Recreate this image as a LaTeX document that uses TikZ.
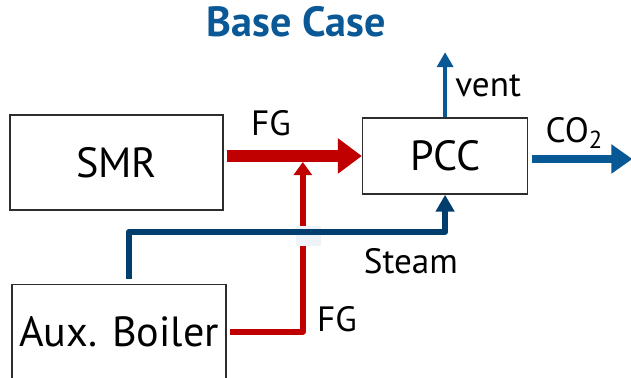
\documentclass[tikz,border=0pt]{standalone}
\usepackage{fontspec}
\setmainfont{PT Sans}
\usepackage{tikz}
\usetikzlibrary{arrows.meta, positioning}
\usepackage{xcolor}
\definecolor{boxLine}{RGB}{45,45,45}
\definecolor{fgRed}{RGB}{192,0,0}
\definecolor{steamBlue}{RGB}{0,62,110}
\definecolor{flowBlue}{RGB}{8,88,150}
\definecolor{titleBlue}{RGB}{10,88,150}
\definecolor{gapFill}{RGB}{238,243,247}

\begin{document}
\begin{tikzpicture}[
    box/.style={rectangle, draw=boxLine, line width=0.04cm, align=center, font=\fontsize{30}{36}\selectfont},
    lbl/.style={inner sep=0pt, font=\fontsize{25}{30}\selectfont},
    title/.style={inner sep=0pt, text=titleBlue, font=\bfseries\fontsize{30}{36}\selectfont},
    gap/.style={rectangle, fill=gapFill, inner sep=0pt},
    fgmain/.style={draw=fgRed, line width=0.3cm, -{Triangle[length=0.6cm, width=0.85cm]}},
    fgaux/.style={draw=fgRed, line width=0.15cm, line join=round, -{Triangle[length=0.33cm, width=0.45cm]}},
    steamline/.style={draw=steamBlue, line width=0.15cm, line join=round, -{Triangle[length=0.42cm, width=0.45cm]}},
    ventline/.style={draw=flowBlue, line width=0.1cm, -{Triangle[length=0.375cm, width=0.4cm]}},
    co2line/.style={draw=flowBlue, line width=0.2cm, -{Triangle[length=0.525cm, width=0.7cm]}}
]
\useasboundingbox (-2.9125,-5.3875) rectangle (12.8625,4.0625);

\node[box, minimum width=5.325cm, minimum height=2.375cm] (smr) at (0,0) {SMR};
\node[box, minimum width=4.125cm, minimum height=1.9cm, right=3.45cm of smr, yshift=0.1625cm] (pcc) {PCC};
\node[box, minimum width=5.35cm, minimum height=2.35cm, below=1.825cm of smr, xshift=0.0625cm] (aux) {Aux. Boiler};

\coordinate (fgx) at ([xshift=1.9cm]aux.east);
\coordinate (fgjoin) at (fgx |- pcc.west);
\coordinate (steamknee) at ([xshift=0.25cm, yshift=1.3cm]aux.north);
\coordinate (crossing) at (fgjoin |- steamknee);
\coordinate (ventout) at ([yshift=1.625cm]pcc.north);
\coordinate (co2out) at ([xshift=2.6cm, yshift=-0.075cm]pcc.east);

\draw[fgmain, shorten <=0.075cm] (smr.east |- pcc.west) -- (pcc.west);
\draw[fgaux, shorten <=0.075cm] (aux.east) -| ([yshift=-0.15cm]fgjoin);
\node[gap, minimum width=0.625cm, minimum height=0.5cm] (crossgap) at ([xshift=0.1375cm, yshift=-0.1cm]crossing) {};
\draw[steamline, shorten <=0.125cm] ([xshift=0.25cm]aux.north) -- (steamknee) -| (pcc.south);
\draw[ventline] (pcc.north) -- (ventout);
\draw[co2line, shorten <=0.1cm] ([yshift=-0.075cm]pcc.east) -- (co2out);

\node[title, anchor=base] (heading) at (4.4875,3.1375) {Base Case};
\node[lbl, anchor=base west] (fgtop) at ([xshift=0.675cm, yshift=0.6625cm]smr.east) {FG};
\node[lbl, anchor=base west] (fgbot) at ([xshift=0.35cm]fgx) {FG};
\node[lbl, anchor=base west] (steamlbl) at ([xshift=-2.0375cm, yshift=-1.975cm]pcc.south) {Steam};
\node[lbl, anchor=base west] (ventlbl) at ([xshift=0.25cm, yshift=0.525cm]pcc.north) {vent};
\node[lbl, anchor=base west] (co2lbl) at ([xshift=0.425cm, yshift=0.325cm]pcc.east) {CO\textsubscript{2}};
\end{tikzpicture}
\end{document}
